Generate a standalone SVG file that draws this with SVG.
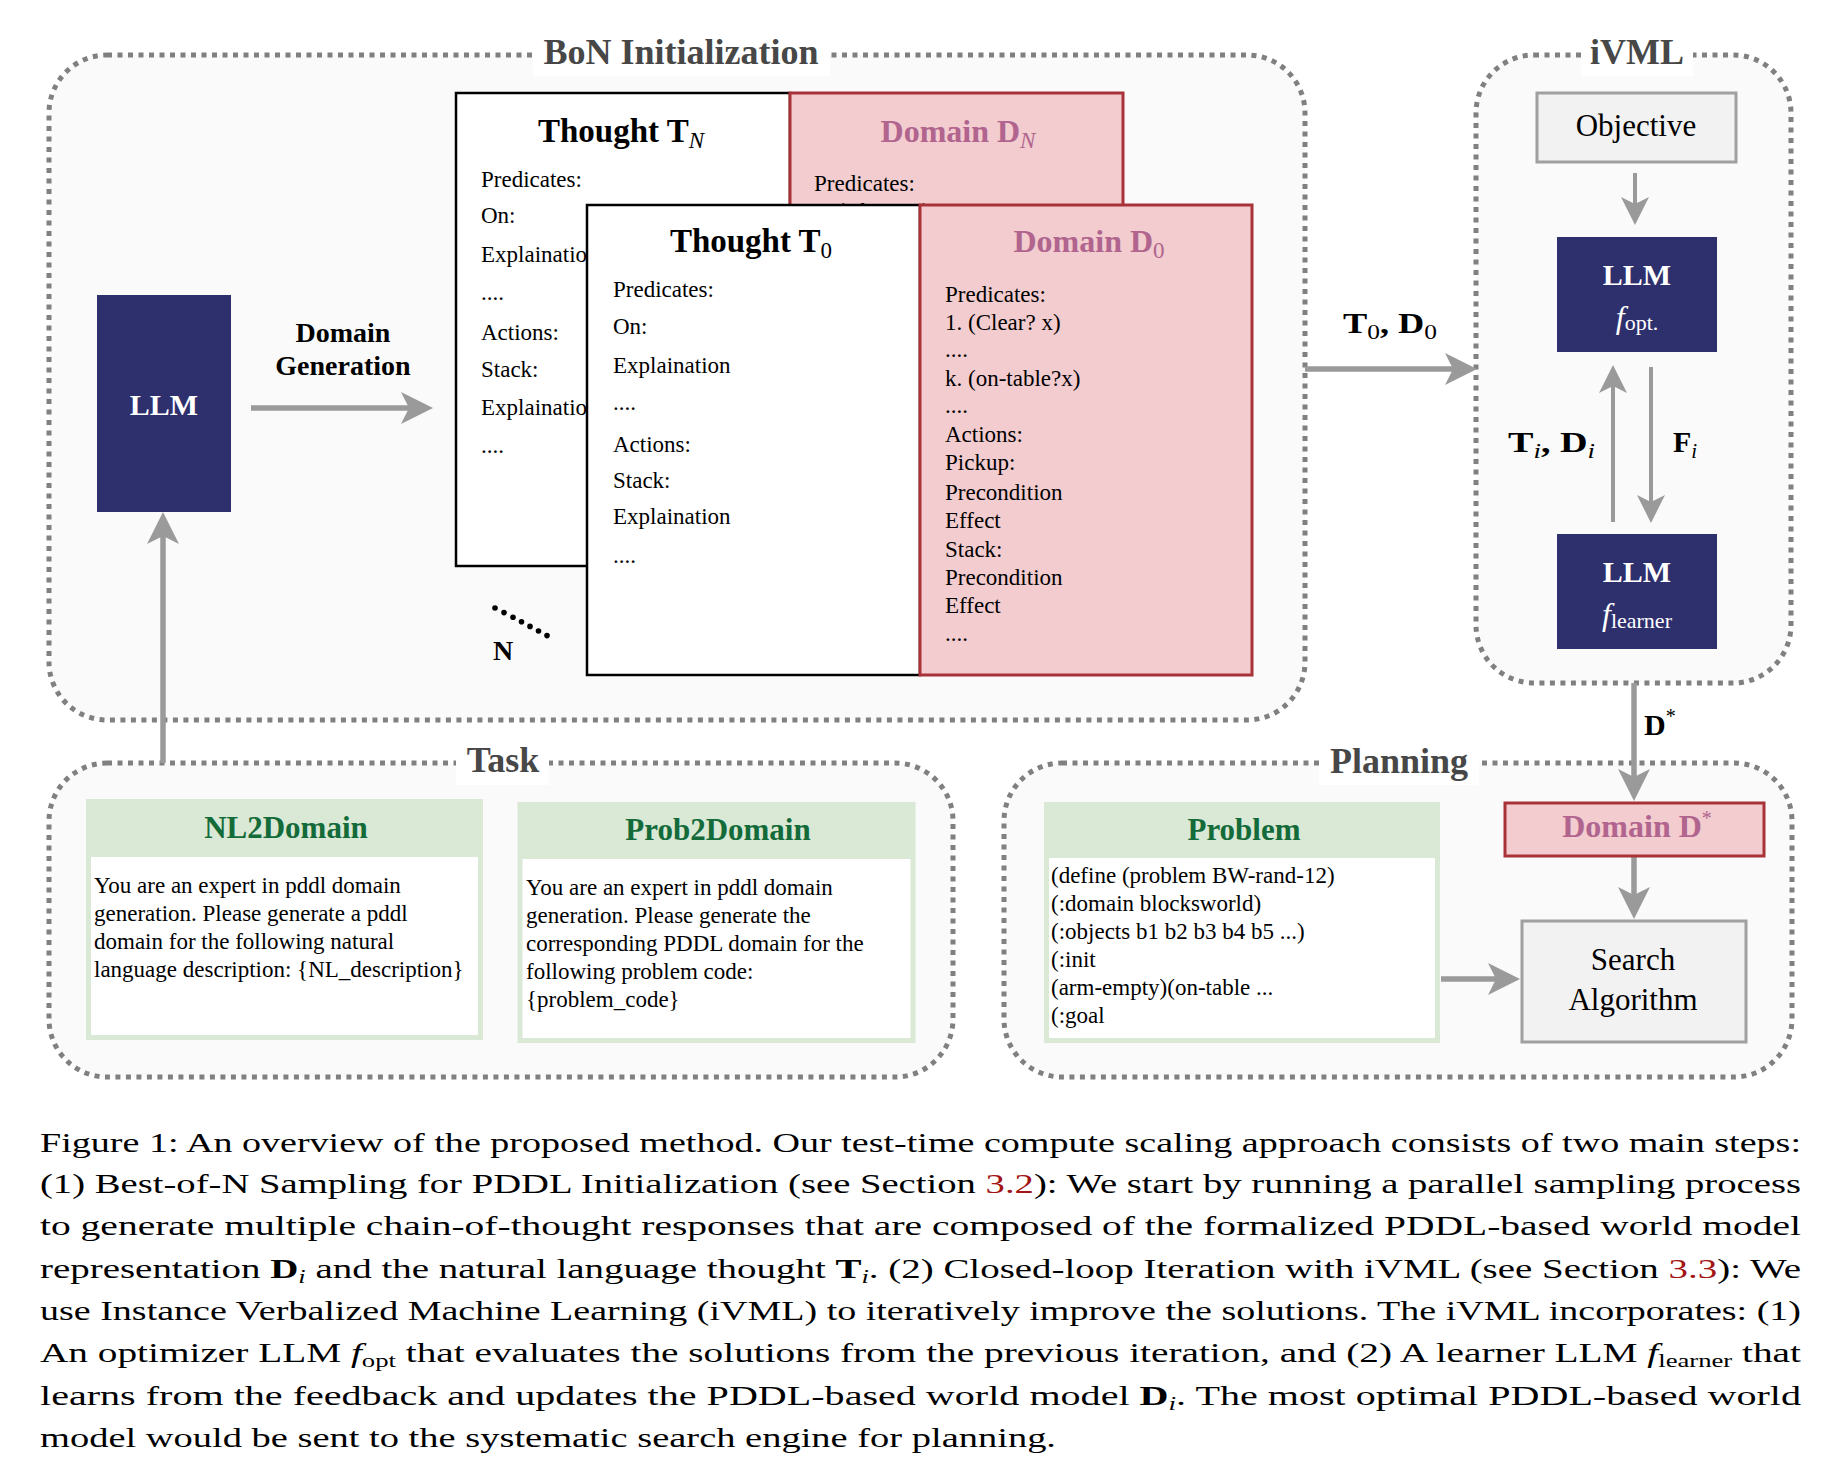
<svg xmlns="http://www.w3.org/2000/svg" width="1826" height="1480" viewBox="0 0 1826 1480">
<defs>
<style>
.grp{fill:#fafafa;stroke:#808080;stroke-width:5;stroke-dasharray:5 5.5}
.ttl{font-family:"Liberation Serif","Times New Roman",serif;font-weight:bold;font-size:36px;fill:#474747;text-anchor:middle}
.tbg{fill:#ffffff}
.body{font-family:"Liberation Serif","Times New Roman",serif;font-size:23px;fill:#000}
.cn{stroke:#9a9a9a;stroke-width:5.5;fill:none}
.cs{stroke:#9a9a9a;stroke-width:4;fill:none}
.navy{fill:#2e306e}
.llm{font-family:"Liberation Serif","Times New Roman",serif;font-weight:bold;font-size:30px;fill:#fff;text-anchor:middle}
.fsub{font-family:"Liberation Serif","Times New Roman",serif;font-size:30px;fill:#fff;text-anchor:middle}
.pink{fill:#f2cccf;stroke:#a83238;stroke-width:3}
.dt{font-family:"Liberation Serif","Times New Roman",serif;font-weight:bold;font-size:32px;fill:#b0648e;text-anchor:middle}
.tb{fill:#fff;stroke:#000;stroke-width:2.5}
.th{font-family:"Liberation Serif","Times New Roman",serif;font-weight:bold;font-size:33px;fill:#000;text-anchor:middle}
.gout{fill:#d9e9d5}
.gin{fill:#fff}
.gt{font-family:"Liberation Serif","Times New Roman",serif;font-weight:bold;font-size:31px;fill:#146b3a;text-anchor:middle}
.gray{fill:#f2f2f2;stroke:#a0a0a0;stroke-width:3}
.gtx{font-family:"Liberation Serif","Times New Roman",serif;font-size:31px;fill:#000;text-anchor:middle}
.math{font-family:"Liberation Serif","Times New Roman",serif;font-weight:bold;font-size:30px;fill:#000}
.lbl{font-family:"Liberation Serif","Times New Roman",serif;font-weight:bold;font-size:28px;fill:#000;text-anchor:middle}
.cap{font-family:"Liberation Serif","Times New Roman",serif;font-size:28px;fill:#000}
.sub{font-weight:normal;font-style:italic}
.num{font-weight:normal;font-style:normal}
.red{fill:#a31515}
</style>
<marker id="ah" markerUnits="userSpaceOnUse" viewBox="0 0 32 32" refX="8" refY="16" markerWidth="32" markerHeight="32" orient="auto">
<path d="M0,0 L32,16 L0,32 L8,16 Z" fill="#9a9a9a"/>
</marker>
<marker id="as" markerUnits="userSpaceOnUse" viewBox="0 0 28 28" refX="7" refY="14" markerWidth="28" markerHeight="28" orient="auto">
<path d="M0,0 L28,14 L0,28 L7,14 Z" fill="#9a9a9a"/>
</marker>
</defs>
<rect width="1826" height="1480" fill="#fff"/>

<!-- group containers -->
<g id="bon-group">
<rect class="grp" x="49" y="55" width="1256" height="665" rx="58"/>
<rect class="tbg" x="533" y="33" width="297" height="43"/>
<text class="ttl" x="681" y="64">BoN Initialization</text>
</g>
<g id="ivml-group">
<rect class="grp" x="1476" y="55" width="315" height="628" rx="58"/>
<rect class="tbg" x="1581" y="33" width="112" height="43"/>
<text class="ttl" x="1637" y="64">iVML</text>
</g>
<g id="task-group">
<rect class="grp" x="49" y="763" width="904" height="314" rx="58"/>
<rect class="tbg" x="456" y="741" width="93" height="44"/>
<text class="ttl" x="503" y="772">Task</text>
</g>
<g id="planning-group">
<rect class="grp" x="1004" y="763" width="788" height="314" rx="58"/>
<rect class="tbg" x="1319" y="741" width="160" height="44"/>
<text class="ttl" x="1399" y="773">Planning</text>
</g>

<!-- connectors -->
<g id="connectors">
<line class="cn" x1="251" y1="408" x2="409" y2="408" marker-end="url(#ah)"/>
<line class="cn" x1="163" y1="763" x2="163" y2="536" marker-end="url(#ah)"/>
<line class="cn" x1="1305" y1="369" x2="1453" y2="369" marker-end="url(#ah)"/>
<line class="cs" x1="1635" y1="173" x2="1635" y2="204" marker-end="url(#as)"/>
<line class="cs" x1="1613" y1="522" x2="1613" y2="386" marker-end="url(#as)"/>
<line class="cs" x1="1651" y1="367" x2="1651" y2="502" marker-end="url(#as)"/>
<line class="cn" x1="1634" y1="683" x2="1634" y2="777" marker-end="url(#ah)"/>
<line class="cn" x1="1634" y1="856" x2="1634" y2="895" marker-end="url(#ah)"/>
<line class="cn" x1="1441" y1="979" x2="1496" y2="979" marker-end="url(#ah)"/>
<text class="lbl" x="343" y="342">Domain</text>
<text class="lbl" x="343" y="375">Generation</text>
<text class="math" x="1343" y="333" font-size="32" textLength="94" lengthAdjust="spacingAndGlyphs">T<tspan class="num" font-size="21" dy="6">0</tspan><tspan dy="-6">, D</tspan><tspan class="num" font-size="21" dy="6">0</tspan></text>
<text class="math" x="1508" y="452" font-size="32" textLength="87" lengthAdjust="spacingAndGlyphs">T<tspan class="sub" font-size="21" dy="6">i</tspan><tspan dy="-6">, D</tspan><tspan class="sub" font-size="21" dy="6">i</tspan></text>
<text class="math" x="1673" y="452" font-size="32">F<tspan class="sub" font-size="21" dy="6">i</tspan></text>
<text class="math" x="1644" y="735" font-size="32">D<tspan class="num" font-size="20" dy="-12">*</tspan></text>
</g>

<!-- LLM left -->
<g id="llm-main">
<rect class="navy" x="97" y="295" width="134" height="217"/>
<text class="llm" x="164" y="415">LLM</text>
</g>

<!-- Thought T_N -->
<g id="thought-n">
<rect class="tb" x="456" y="93" width="334" height="473"/>
<text class="th" x="621" y="142">Thought T<tspan class="sub" font-size="23" dy="6">N</tspan></text>
<g class="body">
<text x="481" y="187">Predicates:</text>
<text x="481" y="223">On:</text>
<text x="481" y="262">Explaination</text>
<text x="481" y="300">....</text>
<text x="481" y="340">Actions:</text>
<text x="481" y="377">Stack:</text>
<text x="481" y="415">Explaination</text>
<text x="481" y="453">....</text>
</g>
</g>

<!-- Domain D_N -->
<g id="domain-n">
<rect class="pink" x="790" y="93" width="333" height="473"/>
<text class="dt" x="958" y="142">Domain D<tspan class="sub" font-size="23" dy="6">N</tspan></text>
<g class="body">
<text x="814" y="191">Predicates:</text>
<text x="814" y="219">1. (Clear? x)</text>
</g>
</g>

<!-- dots N -->
<g id="n-dots">
<circle cx="495" cy="608" r="2.8"/>
<circle cx="504" cy="612.6" r="2.8"/>
<circle cx="513" cy="617.2" r="2.8"/>
<circle cx="521.5" cy="621.8" r="2.8"/>
<circle cx="530" cy="626.4" r="2.8"/>
<circle cx="538.5" cy="631" r="2.8"/>
<circle cx="547" cy="635.6" r="2.8"/>
<text class="lbl" x="503" y="660">N</text>
</g>

<!-- Thought T_0 -->
<g id="thought-0">
<rect class="tb" x="587" y="205" width="333" height="470"/>
<text class="th" x="751" y="252">Thought T<tspan class="num" font-size="23" dy="6">0</tspan></text>
<g class="body">
<text x="613" y="297">Predicates:</text>
<text x="613" y="334">On:</text>
<text x="613" y="373">Explaination</text>
<text x="613" y="410">....</text>
<text x="613" y="452">Actions:</text>
<text x="613" y="488">Stack:</text>
<text x="613" y="524">Explaination</text>
<text x="613" y="563">....</text>
</g>
</g>

<!-- Domain D_0 -->
<g id="domain-0">
<rect class="pink" x="920" y="205" width="332" height="470"/>
<text class="dt" x="1089" y="252">Domain D<tspan class="num" font-size="23" dy="6">0</tspan></text>
<g class="body">
<text x="945" y="302">Predicates:</text>
<text x="945" y="329.5">1. (Clear? x)</text>
<text x="945" y="357">....</text>
<text x="945" y="386">k. (on-table?x)</text>
<text x="945" y="413">....</text>
<text x="945" y="442">Actions:</text>
<text x="945" y="470">Pickup:</text>
<text x="945" y="500">Precondition</text>
<text x="945" y="528">Effect</text>
<text x="945" y="557">Stack:</text>
<text x="945" y="585">Precondition</text>
<text x="945" y="613">Effect</text>
<text x="945" y="641">....</text>
</g>
</g>

<!-- iVML nodes -->
<g id="objective">
<rect class="gray" x="1537" y="93" width="199" height="69"/>
<text class="gtx" x="1636" y="136" font-size="30">Objective</text>
</g>
<g id="llm-opt">
<rect class="navy" x="1557" y="237" width="160" height="115"/>
<text class="llm" x="1637" y="285">LLM</text>
<text class="fsub" x="1637" y="328"><tspan font-style="italic" font-size="32">f</tspan><tspan font-size="22" dy="2">opt.</tspan></text>
</g>
<g id="llm-learner">
<rect class="navy" x="1557" y="534" width="160" height="115"/>
<text class="llm" x="1637" y="582">LLM</text>
<text class="fsub" x="1637" y="625"><tspan font-style="italic" font-size="32">f</tspan><tspan font-size="22" dy="3">learner</tspan></text>
</g>

<!-- Task nodes -->
<g id="nl2domain">
<rect class="gout" x="86" y="799" width="397" height="241"/>
<rect class="gin" x="91" y="857" width="387" height="178"/>
<text class="gt" x="286" y="838">NL2Domain</text>
<g class="body">
<text x="94" y="893">You are an expert in pddl domain</text>
<text x="94" y="921">generation. Please generate a pddl</text>
<text x="94" y="949">domain for the following natural</text>
<text x="94" y="977">language description: {NL_description}</text>
</g>
</g>
<g id="prob2domain">
<rect class="gout" x="517.5" y="802" width="398" height="241"/>
<rect class="gin" x="522.5" y="859" width="388" height="179"/>
<text class="gt" x="718" y="840">Prob2Domain</text>
<g class="body">
<text x="526" y="895">You are an expert in pddl domain</text>
<text x="526" y="923">generation. Please generate the</text>
<text x="526" y="951">corresponding PDDL domain for the</text>
<text x="526" y="979">following problem code:</text>
<text x="526" y="1007">{problem_code}</text>
</g>
</g>

<!-- Planning nodes -->
<g id="problem">
<rect class="gout" x="1044" y="802" width="396" height="241"/>
<rect class="gin" x="1049" y="858" width="386" height="180"/>
<text class="gt" x="1244" y="840">Problem</text>
<g class="body">
<text x="1051" y="883">(define (problem BW-rand-12)</text>
<text x="1051" y="911">(:domain blocksworld)</text>
<text x="1051" y="939">(:objects b1 b2 b3 b4 b5 ...)</text>
<text x="1051" y="967">(:init</text>
<text x="1051" y="995">(arm-empty)(on-table ...</text>
<text x="1051" y="1023">(:goal</text>
</g>
</g>
<g id="domain-star">
<rect class="pink" x="1505" y="803" width="259" height="53"/>
<text class="dt" x="1637" y="837" font-size="31">Domain D<tspan class="num" font-size="20" dy="-12">*</tspan></text>
</g>
<g id="search">
<rect class="gray" x="1522" y="921" width="224" height="121"/>
<text class="gtx" x="1633" y="970">Search</text>
<text class="gtx" x="1633" y="1010">Algorithm</text>
</g>

<!-- caption -->
<g id="caption" class="cap">
<text x="40" y="1152" textLength="1761" lengthAdjust="spacingAndGlyphs">Figure 1: An overview of the proposed method. Our test-time compute scaling approach consists of two main steps:</text>
<text x="40" y="1193" textLength="1761" lengthAdjust="spacingAndGlyphs">(1) Best-of-N Sampling for PDDL Initialization (see Section <tspan class="red">3.2</tspan>): We start by running a parallel sampling process</text>
<text x="40" y="1235" textLength="1761" lengthAdjust="spacingAndGlyphs">to generate multiple chain-of-thought responses that are composed of the formalized PDDL-based world model</text>
<text x="40" y="1278" textLength="1761" lengthAdjust="spacingAndGlyphs">representation <tspan font-weight="bold">D</tspan><tspan class="sub" font-size="19" dy="5">i</tspan><tspan dy="-5"> and the natural language thought </tspan><tspan font-weight="bold">T</tspan><tspan class="sub" font-size="19" dy="5">i</tspan><tspan dy="-5">. (2) Closed-loop Iteration with iVML (see Section </tspan><tspan class="red">3.3</tspan>): We</text>
<text x="40" y="1320" textLength="1761" lengthAdjust="spacingAndGlyphs">use Instance Verbalized Machine Learning (iVML) to iteratively improve the solutions. The iVML incorporates: (1)</text>
<text x="40" y="1362" textLength="1761" lengthAdjust="spacingAndGlyphs">An optimizer LLM <tspan font-style="italic">f</tspan><tspan font-size="19" dy="5">opt</tspan><tspan dy="-5"> that evaluates the solutions from the previous iteration, and (2) A learner LLM </tspan><tspan font-style="italic">f</tspan><tspan font-size="19" dy="5">learner</tspan><tspan dy="-5"> that</tspan></text>
<text x="40" y="1405" textLength="1761" lengthAdjust="spacingAndGlyphs">learns from the feedback and updates the PDDL-based world model <tspan font-weight="bold">D</tspan><tspan class="sub" font-size="19" dy="5">i</tspan><tspan dy="-5">. The most optimal PDDL-based world</tspan></text>
<text x="40" y="1447" textLength="1016" lengthAdjust="spacingAndGlyphs">model would be sent to the systematic search engine for planning.</text>
</g>
</svg>
